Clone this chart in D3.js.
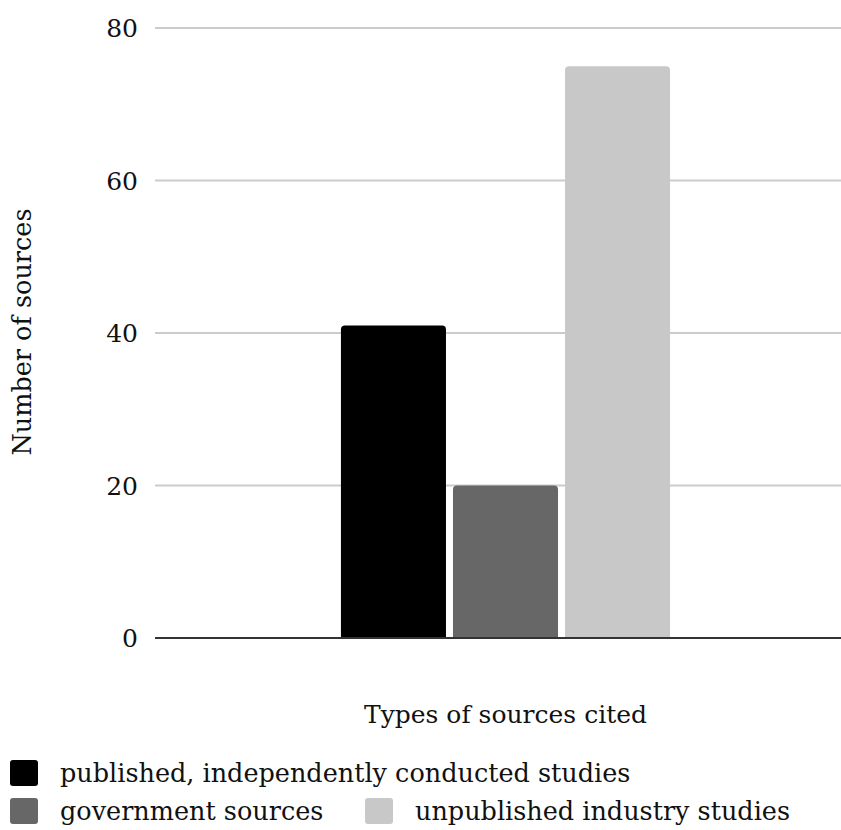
<!DOCTYPE html>
<html>
<head>
<meta charset="utf-8">
<script src="https://cdn.jsdelivr.net/npm/d3@7/dist/d3.min.js"></script>
<style>
  html, body { margin: 0; padding: 0; background: #fff; }
  svg { display: block; }
  text { font-family: "DejaVu Serif", "Liberation Serif", serif; fill: #111; }
</style>
</head>
<body>
<svg id="chart" width="841" height="830"></svg>
<script>
// Single category group, three source types
const categories = ["Types of sources cited"];
const seriesNames = [
  "published, independently conducted studies",
  "government sources",
  "unpublished industry studies"
];
const seriesValues = [41, 20, 75];
const seriesColors = ["#000000", "#676767", "#c8c8c8"];
const yTicks = [0, 20, 40, 60, 80];

const svg = d3.select("#chart");
const plot = { left: 155, right: 856, top: 28, bottom: 638 };

const y = d3.scaleLinear().domain([0, 80]).range([plot.bottom, plot.top]);
const x0 = d3.scaleBand().domain(categories).range([plot.left, plot.right]).padding(0.361);
const x1 = d3.scaleBand().domain(seriesNames).range([0, x0.bandwidth()]).paddingInner(0.0625);

// Gridlines
svg.append("g")
  .selectAll("line")
  .data(yTicks.filter(d => d !== 0))
  .join("line")
  .attr("x1", plot.left).attr("x2", plot.right)
  .attr("y1", d => y(d)).attr("y2", d => y(d))
  .attr("stroke", "#cccccc").attr("stroke-width", 2);

// Y tick labels
const yAxis = d3.axisLeft(y).tickValues(yTicks).tickSize(0).tickPadding(0);
const gy = svg.append("g").attr("transform", `translate(${plot.left - 17},0)`).call(yAxis);
gy.select(".domain").remove();
gy.selectAll("text")
  .attr("font-family", "'DejaVu Serif', serif")
  .attr("font-size", 25)
  .attr("fill", "#111")
  .attr("dy", "0.35em");

// Bars with rounded top corners
function barPath(x, yTop, w, yBottom, r) {
  const rr = Math.min(r, (yBottom - yTop) / 2, w / 2);
  return `M${x},${yBottom}V${yTop + rr}Q${x},${yTop} ${x + rr},${yTop}` +
         `H${x + w - rr}Q${x + w},${yTop} ${x + w},${yTop + rr}V${yBottom}Z`;
}

const group = svg.append("g")
  .selectAll("g")
  .data(categories)
  .join("g")
  .attr("transform", d => `translate(${x0(d)},0)`);

group.selectAll("path")
  .data(seriesNames.map((name, i) => ({ name, value: seriesValues[i], color: seriesColors[i] })))
  .join("path")
  .attr("d", d => barPath(x1(d.name), y(d.value), x1.bandwidth(), y(0), 4))
  .attr("fill", d => d.color);

// Baseline
svg.append("line")
  .attr("x1", plot.left).attr("x2", plot.right)
  .attr("y1", y(0)).attr("y2", y(0))
  .attr("stroke", "#333333").attr("stroke-width", 2);

// Axis titles
svg.append("text")
  .attr("x", x0(categories[0]) + x0.bandwidth() / 2)
  .attr("y", 723)
  .attr("text-anchor", "middle")
  .attr("font-size", 25)
  .text(categories[0]);

svg.append("text")
  .attr("transform", `translate(31,332) rotate(-90)`)
  .attr("text-anchor", "middle")
  .attr("font-size", 25.5)
  .text("Number of sources");

// Legend
const legendItems = [
  { name: seriesNames[0], color: seriesColors[0], x: 10, y: 773 },
  { name: seriesNames[1], color: seriesColors[1], x: 10, y: 811 },
  { name: seriesNames[2], color: seriesColors[2], x: 365, y: 811 }
];
const lg = svg.append("g").selectAll("g").data(legendItems).join("g")
  .attr("transform", d => `translate(${d.x},${d.y})`);
lg.append("rect")
  .attr("x", 0).attr("y", -13).attr("width", 28).attr("height", 26)
  .attr("rx", 3).attr("fill", d => d.color);
lg.append("text")
  .attr("x", 50).attr("y", 0).attr("dy", "0.35em")
  .attr("font-size", 25.5)
  .text(d => d.name);
</script>
</body>
</html>
